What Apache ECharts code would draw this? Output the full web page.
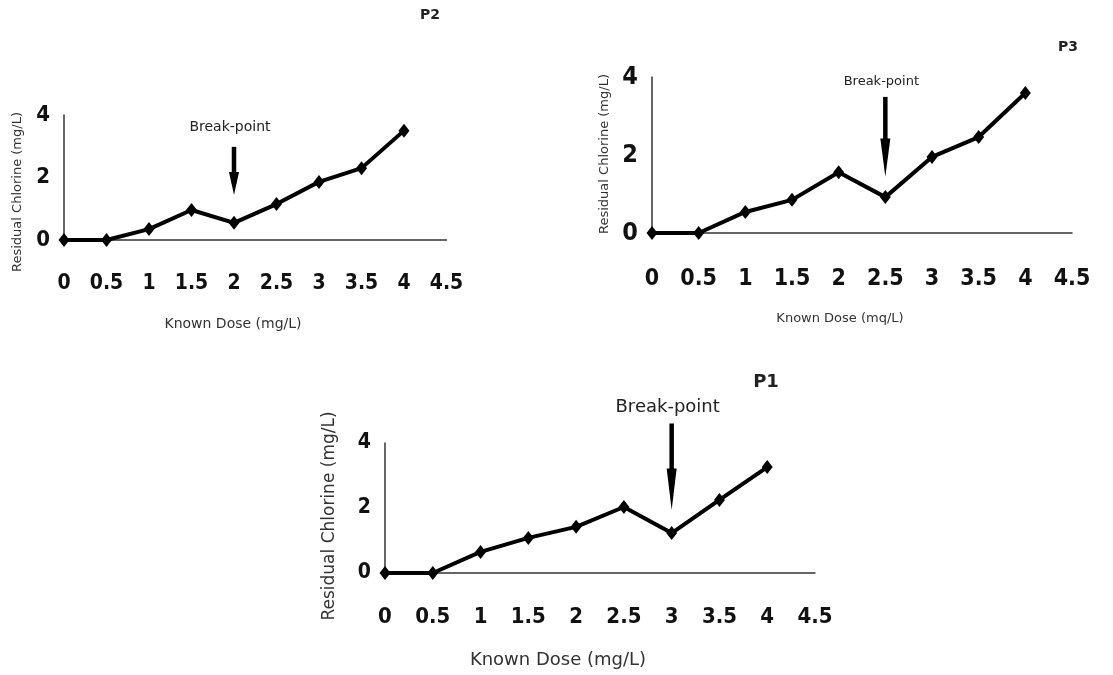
<!DOCTYPE html>
<html>
<head>
<meta charset="utf-8">
<script src="https://cdn.jsdelivr.net/npm/echarts@6/dist/echarts.min.js"></script>
<style>html,body{margin:0;padding:0;background:#fff;}#c{width:1113px;height:675px;}</style>
</head>
<body>
<div id="c"></div>
<script>
// ---- data ----
const doses = [0, 0.5, 1, 1.5, 2, 2.5, 3, 3.5, 4];
const p1Residual = [0, 0, 0.65, 1.08, 1.42, 2.03, 1.23, 2.25, 3.26];
const p2Residual = [0, 0, 0.35, 0.96, 0.55, 1.15, 1.86, 2.30, 3.50];
const p3Residual = [0, 0, 0.54, 0.85, 1.56, 0.92, 1.95, 2.46, 3.59];
const panelNames = ['P2', 'P3', 'P1'];
const breakPointDose = [2, 2.5, 3];          // P2, P3, P1
const xLabel = 'Known Dose (mg/L)';
const xLabelP3 = 'Known Dose (mq/L)';
const yLabel = 'Residual Chlorine (mg/L)';
const breakText = 'Break-point';

const chart = echarts.init(document.getElementById('c'), null, {renderer: 'canvas'});

const tickFamily = '"DejaVu Sans Condensed", "Liberation Sans Narrow", "Arial Narrow", sans-serif';

// layout (pixels)
const grids = [
  {left: 64, top: 115, width: 382.5, height: 125},   // P2
  {left: 652, top: 77, width: 420, height: 156},     // P3
  {left: 385, top: 443, width: 430, height: 130}     // P1
];
const tickFont = [21, 23, 22];
const yTickFont = [22, 25, 21];
const xMargin = [33, 35, 33];

const series = [p2Residual, p3Residual, p1Residual];

const option = {
  backgroundColor: '#fff',
  animation: false,
  grid: grids.map(g => Object.assign({outerBoundsMode: 'none', containLabel: false}, g)),
  xAxis: grids.map((g, i) => ({
    type: 'value', gridIndex: i, min: 0, max: 4.5, interval: 0.5,
    axisLine: {show: true, lineStyle: {color: '#333', width: 1.5}},
    axisTick: {show: false}, splitLine: {show: false},
    axisLabel: {margin: xMargin[i], color: '#111', fontFamily: tickFamily, fontWeight: 'bold', fontSize: tickFont[i], showMaxLabel: true, showMinLabel: true}
  })),
  yAxis: grids.map((g, i) => ({
    type: 'value', gridIndex: i, min: 0, max: 4, interval: 2,
    axisLine: {show: true, lineStyle: {color: '#333', width: 1.5}},
    axisTick: {show: false}, splitLine: {show: false},
    axisLabel: {margin: 14, color: '#111', fontFamily: tickFamily, fontWeight: 'bold', fontSize: yTickFont[i]}
  })),
  series: series.map((vals, i) => ({
    type: 'line', xAxisIndex: i, yAxisIndex: i,
    data: doses.map((d, k) => [d, vals[k]]),
    symbol: 'diamond', symbolSize: [11, 14],
    lineStyle: {color: '#000', width: 4},
    itemStyle: {color: '#000'},
    clip: false
  }))
};
chart.setOption(option);

// ---- annotation / text graphics ----
const g = [];
const titleStyle = [
  {x: 430, y: 15, size: 14},
  {x: 1068, y: 47, size: 14},
  {x: 766, y: 382, size: 18}
];
panelNames.forEach((n, i) => {
  g.push({type: 'text', x: titleStyle[i].x, y: titleStyle[i].y,
    style: {text: n, fill: '#222', font: 'bold ' + titleStyle[i].size + 'px "DejaVu Sans"', textAlign: 'center', textVerticalAlign: 'middle'}});
});
// axis titles
const xTitle = [
  {x: 233, y: 324, size: 14, t: xLabel},
  {x: 840, y: 319, size: 13, t: xLabelP3},
  {x: 558, y: 660, size: 18, t: xLabel}
];
xTitle.forEach(t => g.push({type: 'text', x: t.x, y: t.y,
  style: {text: t.t, fill: '#333', font: t.size + 'px "DejaVu Sans"', textAlign: 'center', textVerticalAlign: 'middle'}}));
const yTitle = [
  {x: 18, y: 192, size: 13},
  {x: 605, y: 154, size: 13},
  {x: 330, y: 516, size: 17}
];
yTitle.forEach(t => g.push({type: 'text', x: t.x, y: t.y, rotation: Math.PI / 2,
  style: {text: yLabel, fill: '#333', font: t.size + 'px "DejaVu Sans"', textAlign: 'center', textVerticalAlign: 'middle'}}));

// break-point arrows, positioned from the data scale
const arrowSpec = [
  {top: 2.98, tip: 1.44, textY: 3.6, size: 14},
  {top: 3.49, tip: 1.44, textY: 3.87, size: 13},
  {top: 4.6, tip: 1.94, textY: 5.1, size: 18}
];
[0, 1, 2].forEach(i => {
  const a = arrowSpec[i];
  const xd = breakPointDose[i];
  const pTop = chart.convertToPixel({gridIndex: i}, [xd, a.top]);
  const pTip = chart.convertToPixel({gridIndex: i}, [xd, a.tip]);
  const pTxt = chart.convertToPixel({gridIndex: i}, [xd, a.textY]);
  const headLen = (pTip[1] - pTop[1]) * 0.48;
  g.push({type: 'line', shape: {x1: pTop[0], y1: pTop[1], x2: pTip[0], y2: pTip[1] - headLen * 0.5},
    style: {stroke: '#000', lineWidth: 4.5}});
  g.push({type: 'polygon', shape: {points: [
    [pTip[0] - 5, pTip[1] - headLen], [pTip[0] + 5, pTip[1] - headLen], [pTip[0], pTip[1]]]},
    style: {fill: '#000'}});
  g.push({type: 'text', x: pTxt[0] - 4, y: pTxt[1],
    style: {text: breakText, fill: '#222', font: a.size + 'px "DejaVu Sans"', textAlign: 'center', textVerticalAlign: 'middle'}});
});
chart.setOption({graphic: g});
</script>
</body>
</html>
